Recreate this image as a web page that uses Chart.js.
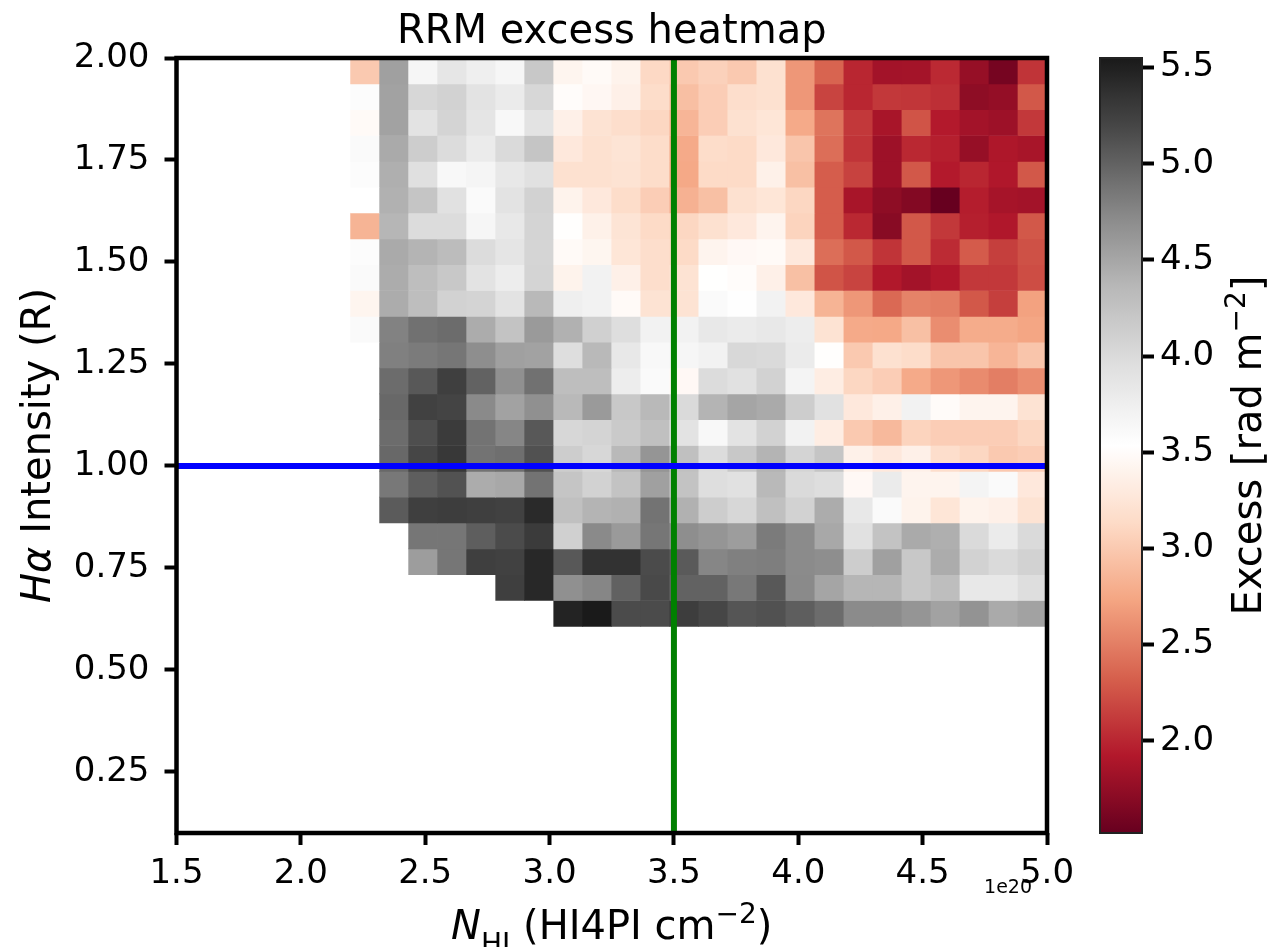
<!DOCTYPE html>
<html>
<head>
<meta charset="utf-8">
<title>RRM excess heatmap</title>
<script src="https://cdn.jsdelivr.net/npm/chart.js@4.4.0/dist/chart.umd.min.js"></script>
<style>
    body { margin: 0; background: #fff; overflow: hidden; }
    #heatmap { position: absolute; left: 0; top: 0; }
    #colorbar { position: absolute; left: 1090px; top: 0; }
</style>
</head>
<body>
<canvas id="heatmap" width="1090" height="947"></canvas>
<canvas id="colorbar" width="179" height="947"></canvas>
<script>
// N_HI bin edges (1e20 cm^-2), occupied columns only
const nhiEdges = [2.2, 2.31667, 2.43333, 2.55, 2.66667, 2.78333, 2.9, 3.01667, 3.13333, 3.25, 3.36667, 3.48333,
    3.6, 3.71667, 3.83333, 3.95, 4.06667, 4.18333, 4.3, 4.41667, 4.53333, 4.65, 4.76667, 4.88333, 5.0];
// H-alpha bin edges (R), bottom to top
const haEdges = [0.60667, 0.67, 0.73333, 0.79667, 0.86, 0.92333, 0.98667, 1.05, 1.11333, 1.17667, 1.24, 1.30333,
    1.36667, 1.43, 1.49333, 1.55667, 1.62, 1.68333, 1.74667, 1.81, 1.87333, 1.93667, 2.0];

// mean RRM excess per bin (rad m^-2), rows from low to high H-alpha, null = empty bin
const excess = [
    [null, null, null, null, null, null, null, 5.48, 5.55, 5.16, 5.16, 5.27, 5.20, 5.09, 5.12, 5.03, 4.93, 4.71, 4.71, 4.63, 4.53, 4.65, 4.47, 4.53],
    [null, null, null, null, null, 5.26, 5.44, 4.67, 4.75, 5.01, 5.18, 5.00, 5.00, 4.85, 5.07, 4.72, 4.51, 4.37, 4.37, 4.19, 4.30, 3.84, 3.84, 3.96],
    [null, null, 4.57, 4.86, 5.26, 5.24, 5.44, 5.07, 5.36, 5.36, 5.16, 5.06, 4.75, 4.79, 4.81, 4.71, 4.69, 4.14, 4.55, 4.19, 4.45, 4.09, 4.00, 4.09],
    [null, null, 4.86, 4.86, 5.03, 5.16, 5.29, 4.11, 4.72, 4.59, 4.86, 4.69, 4.63, 4.57, 4.83, 4.71, 4.48, 3.93, 4.25, 4.47, 4.43, 4.00, 3.80, 4.00],
    [null, 5.05, 5.26, 5.27, 5.26, 5.24, 5.42, 4.28, 4.39, 4.41, 4.88, 4.41, 4.14, 4.03, 4.28, 4.09, 4.45, 3.84, 3.60, 3.40, 3.25, 3.40, 3.37, 3.22],
    [null, 4.85, 5.03, 5.11, 4.45, 4.48, 4.88, 4.22, 4.09, 4.25, 4.55, 4.25, 3.96, 3.92, 4.35, 4.00, 3.96, 3.46, 3.80, 3.41, 3.41, 3.68, 3.60, 3.28],
    [null, 4.96, 5.20, 5.31, 4.88, 4.91, 5.12, 4.14, 4.03, 4.35, 4.63, 4.28, 3.98, 4.19, 4.39, 4.07, 4.22, 3.38, 3.28, 3.37, 3.17, 3.10, 3.00, 3.03],
    [null, 4.93, 5.14, 5.29, 4.88, 4.75, 5.07, 4.03, 4.07, 4.17, 4.28, 3.90, 3.62, 3.90, 4.09, 3.70, 3.33, 3.00, 2.88, 3.08, 3.03, 3.03, 3.03, 3.10],
    [null, 4.96, 5.24, 5.22, 4.72, 4.53, 4.67, 4.35, 4.59, 4.19, 4.35, 4.00, 4.39, 4.51, 4.47, 4.14, 3.92, 3.28, 3.37, 3.70, 3.49, 3.41, 3.41, 3.22],
    [null, 4.93, 5.07, 5.26, 5.00, 4.67, 4.90, 4.30, 4.30, 3.77, 3.60, 3.46, 3.98, 3.92, 4.09, 3.68, 3.33, 3.10, 3.03, 2.77, 2.65, 2.58, 2.50, 2.59],
    [null, 4.79, 4.83, 4.86, 4.69, 4.55, 4.53, 3.96, 4.35, 3.84, 3.62, 3.65, 3.70, 4.02, 4.00, 3.80, 3.52, 3.00, 3.20, 3.15, 2.97, 2.97, 2.85, 2.97],
    [3.60, 4.78, 4.90, 4.93, 4.45, 4.25, 4.59, 4.41, 4.11, 3.96, 3.70, 3.70, 3.84, 3.80, 3.84, 3.77, 3.22, 2.77, 2.76, 2.93, 2.59, 2.78, 2.78, 2.74],
    [3.42, 4.45, 4.30, 4.09, 4.07, 3.90, 4.35, 3.74, 3.70, 3.48, 3.22, 3.22, 3.60, 3.55, 3.70, 3.28, 2.84, 2.65, 2.38, 2.53, 2.50, 2.28, 2.14, 2.71],
    [3.60, 4.45, 4.30, 4.19, 3.90, 3.77, 4.07, 3.40, 3.70, 3.37, 3.17, 3.22, 3.53, 3.50, 3.37, 2.93, 2.26, 2.17, 1.92, 1.84, 1.91, 2.10, 2.10, 2.22],
    [3.58, 4.47, 4.39, 4.32, 3.98, 3.87, 4.05, 3.48, 3.43, 3.25, 3.17, 3.13, 3.41, 3.46, 3.48, 3.28, 2.41, 2.28, 2.08, 2.28, 2.03, 2.30, 2.14, 2.24],
    [2.84, 4.37, 3.98, 3.98, 3.65, 3.84, 4.07, 3.52, 3.38, 3.23, 3.13, 3.10, 3.20, 3.28, 3.41, 3.08, 2.31, 2.01, 1.70, 2.28, 2.10, 1.96, 1.91, 2.28],
    [3.54, 4.41, 4.22, 3.93, 3.60, 3.90, 4.09, 3.40, 3.28, 3.15, 3.03, 2.82, 2.93, 3.20, 3.25, 3.10, 2.31, 1.87, 1.73, 1.67, 1.52, 1.95, 1.86, 1.84],
    [3.57, 4.43, 3.94, 3.62, 3.67, 3.84, 3.93, 3.20, 3.20, 3.22, 3.15, 2.76, 3.13, 3.13, 3.38, 2.93, 2.31, 2.16, 1.81, 2.28, 1.93, 2.00, 1.91, 2.28],
    [3.60, 4.47, 4.14, 3.98, 3.80, 4.00, 4.22, 3.28, 3.20, 3.23, 3.15, 2.77, 3.15, 3.13, 3.28, 2.97, 2.41, 2.08, 1.81, 2.01, 1.96, 1.77, 1.90, 1.87],
    [3.48, 4.53, 3.90, 4.07, 3.87, 3.62, 3.90, 3.37, 3.22, 3.17, 3.10, 2.85, 3.03, 3.20, 3.25, 2.77, 2.44, 2.10, 1.87, 2.26, 1.93, 1.84, 1.81, 2.10],
    [3.58, 4.53, 4.03, 4.09, 3.90, 3.80, 4.03, 3.50, 3.45, 3.37, 3.15, 2.92, 3.03, 3.17, 3.20, 2.65, 2.17, 2.00, 2.10, 2.09, 2.05, 1.73, 1.76, 2.28],
    [3.00, 4.55, 3.65, 3.86, 3.74, 3.65, 4.19, 3.42, 3.48, 3.40, 3.12, 3.00, 3.06, 3.00, 3.20, 2.65, 2.35, 2.00, 1.84, 1.85, 2.02, 1.77, 1.60, 2.08]
];

const xRange = [1.5, 5.0];
const yRange = [0.1, 2.0];
const xTicks = [1.5, 2.0, 2.5, 3.0, 3.5, 4.0, 4.5, 5.0];
const yTicks = [0.25, 0.5, 0.75, 1.0, 1.25, 1.5, 1.75, 2.0];
const cbarTicks = [2.0, 2.5, 3.0, 3.5, 4.0, 4.5, 5.0, 5.5];
const nhiCut = 3.5;
const haCut = 1.0;

const FONT = 'DejaVu Sans';
Chart.defaults.font.family = FONT;
Chart.defaults.color = '#000';

const allValues = excess.flat().filter(v => v !== null);
const vmin = Math.min(...allValues);
const vmax = Math.max(...allValues);

// RdGy, red (low) -> white -> dark grey (high)
const rdgy = [[103, 0, 31], [178, 24, 43], [214, 96, 77], [244, 165, 130], [253, 219, 199], [255, 255, 255],
    [224, 224, 224], [186, 186, 186], [135, 135, 135], [77, 77, 77], [26, 26, 26]];

function ColorFor(v) {
    let t = (v - vmin) / (vmax - vmin);
    t = Math.min(1, Math.max(0, t)) * (rdgy.length - 1);
    const i = Math.min(Math.floor(t), rdgy.length - 2);
    const f = t - i;
    const c = rdgy[i].map((a, k) => Math.round(a + (rdgy[i + 1][k] - a) * f));
    return `rgb(${c[0]},${c[1]},${c[2]})`;
}

// one floating bar per filled bin
const cells = [];
excess.forEach((row, r) => {
    row.forEach((v, c) => {
        if (v === null) return;
        cells.push({ x: (nhiEdges[c] + nhiEdges[c + 1]) / 2, y: [haEdges[r], haEdges[r + 1]], v: v });
    });
});

// draws a label made of pieces with different fonts, centred on (x, y)
function DrawParts(ctx, parts, x, y, angle) {
    ctx.save();
    ctx.translate(x, y);
    ctx.rotate(angle);
    ctx.fillStyle = '#000';
    ctx.textAlign = 'left';
    ctx.textBaseline = 'alphabetic';
    let total = 0;
    for (const p of parts) {
        ctx.font = p.font;
        p.width = ctx.measureText(p.text).width;
        total += p.width;
    }
    let pos = -total / 2;
    for (const p of parts) {
        ctx.font = p.font;
        ctx.fillText(p.text, pos, p.shift || 0);
        pos += p.width;
    }
    ctx.restore();
}

const big = '40px ' + FONT;
const bigItalic = 'italic 40px ' + FONT;
const small = '28px ' + FONT;

const heatmapDecor = {
    id: 'heatmapDecor',
    afterDraw(chart) {
        const { ctx, chartArea: a } = chart;
        ctx.save();
        ctx.lineWidth = 4.5;
        ctx.strokeStyle = '#000';
        ctx.strokeRect(a.left, a.top, a.right - a.left, a.bottom - a.top);
        ctx.restore();

        DrawParts(ctx, [
            { text: 'N', font: bigItalic },
            { text: 'HI', font: small, shift: 14 },
            { text: ' (HI4PI cm', font: big },
            { text: '\u22122', font: small, shift: -16 },
            { text: ')', font: big }
        ], (a.left + a.right) / 2, 939, 0);

        DrawParts(ctx, [
            { text: 'H\u03b1', font: bigItalic },
            { text: ' Intensity (R)', font: big }
        ], 50, (a.top + a.bottom) / 2, -Math.PI / 2);

        // scale factor of the x axis
        ctx.save();
        ctx.font = '19px ' + FONT;
        ctx.fillStyle = '#000';
        ctx.textAlign = 'right';
        ctx.textBaseline = 'alphabetic';
        ctx.fillText('1e20', a.right - 15, 893);
        ctx.restore();
    }
};

new Chart(document.getElementById('heatmap'), {
    type: 'bar',
    data: {
        datasets: [
            {
                type: 'line',
                data: [{ x: xRange[0], y: haCut }, { x: xRange[1], y: haCut }],
                borderColor: '#0000ff',
                borderWidth: 6,
                pointRadius: 0,
                order: 0
            },
            {
                type: 'line',
                data: [{ x: nhiCut, y: yRange[0] }, { x: nhiCut, y: yRange[1] }],
                borderColor: '#008000',
                borderWidth: 6,
                pointRadius: 0,
                order: 0
            },
            {
                data: cells,
                backgroundColor: c => c.raw ? ColorFor(c.raw.v) : 'transparent',
                borderWidth: 0,
                barPercentage: 1,
                categoryPercentage: 1,
                order: 1
            }
        ]
    },
    options: {
        responsive: false,
        animation: false,
        events: [],
        layout: { padding: { left: 0, right: 43, top: 0, bottom: 0 } },
        plugins: {
            legend: { display: false },
            tooltip: { enabled: false },
            title: {
                display: true,
                text: 'RRM excess heatmap',
                fullSize: false,
                color: '#000',
                font: { size: 40, weight: 'normal', lineHeight: 1.2 },
                padding: { top: 8.2, bottom: 1.8 }
            }
        },
        scales: {
            x: {
                type: 'linear',
                min: xRange[0],
                max: xRange[1],
                offset: false,
                afterFit: s => { s.height = 114; },
                afterBuildTicks: s => { s.ticks = xTicks.map(v => ({ value: v })); },
                grid: { offset: false, drawOnChartArea: false, tickLength: 12, tickWidth: 4, tickColor: '#000' },
                border: { display: false },
                ticks: { font: { size: 34 }, padding: 9, maxRotation: 0, autoSkip: false, callback: v => v.toFixed(1) }
            },
            y: {
                type: 'linear',
                min: yRange[0],
                max: yRange[1],
                afterFit: s => { s.width = 176.5; },
                afterBuildTicks: s => { s.ticks = yTicks.map(v => ({ value: v })); },
                grid: { drawOnChartArea: false, tickLength: 12, tickWidth: 4, tickColor: '#000' },
                border: { display: false },
                ticks: { font: { size: 34 }, padding: 15, autoSkip: false, callback: v => v.toFixed(2) }
            }
        }
    },
    plugins: [heatmapDecor]
});

// colour bar
function BarGradient(chart) {
    const { ctx, chartArea, scales } = chart;
    if (!chartArea) return 'transparent';
    const g = ctx.createLinearGradient(0, scales.y.getPixelForValue(vmin), 0, scales.y.getPixelForValue(vmax));
    for (let i = 0; i <= 60; i++) {
        g.addColorStop(i / 60, ColorFor(vmin + (vmax - vmin) * i / 60));
    }
    return g;
}

const colorbarDecor = {
    id: 'colorbarDecor',
    afterDraw(chart) {
        const { ctx, chartArea: a } = chart;
        ctx.save();
        ctx.lineWidth = 2;
        ctx.strokeStyle = '#222';
        ctx.strokeRect(a.left, a.top, a.right - a.left, a.bottom - a.top);
        ctx.restore();

        DrawParts(ctx, [
            { text: 'Excess [rad m', font: big },
            { text: '\u22122', font: small, shift: -16 },
            { text: ']', font: big }
        ], 171, (a.top + a.bottom) / 2, -Math.PI / 2);
    }
};

new Chart(document.getElementById('colorbar'), {
    type: 'bar',
    data: {
        labels: [''],
        datasets: [{
            data: [[vmin, vmax]],
            backgroundColor: c => BarGradient(c.chart),
            borderWidth: 0,
            barPercentage: 1,
            categoryPercentage: 1
        }]
    },
    options: {
        responsive: false,
        animation: false,
        events: [],
        layout: { padding: { left: 10, right: 0, top: 58, bottom: 114 } },
        plugins: { legend: { display: false }, tooltip: { enabled: false } },
        scales: {
            x: { display: false },
            y: {
                position: 'right',
                min: vmin,
                max: vmax,
                afterFit: s => { s.width = 127; },
                afterBuildTicks: s => { s.ticks = cbarTicks.map(v => ({ value: v })); },
                grid: { drawOnChartArea: false, tickLength: 12, tickWidth: 4, tickColor: '#000' },
                border: { display: false },
                ticks: { font: { size: 34 }, padding: 6, autoSkip: false, callback: v => v.toFixed(1) }
            }
        }
    },
    plugins: [colorbarDecor]
});
</script>
</body>
</html>
